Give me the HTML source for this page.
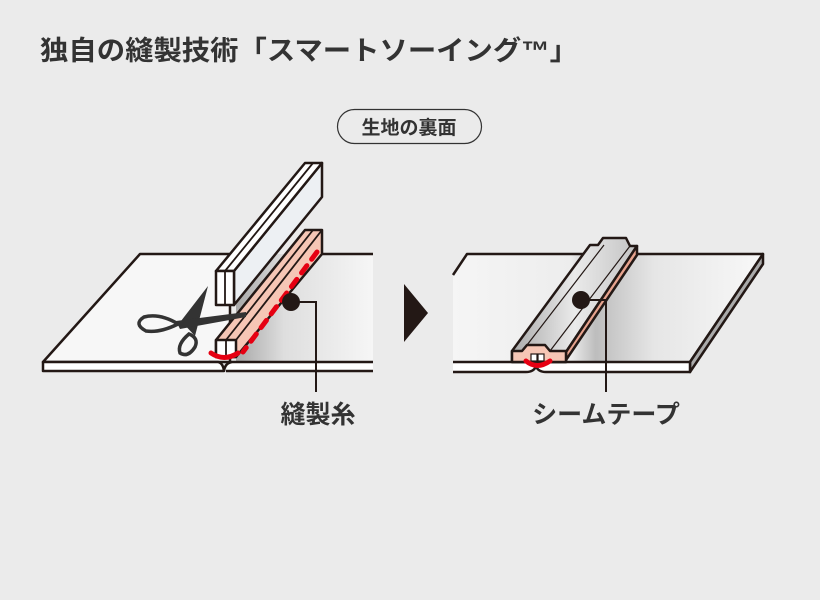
<!DOCTYPE html>
<html><head><meta charset="utf-8"><style>
html,body{margin:0;padding:0;background:#ebebeb;}
svg{display:block;}
text{font-family:"Liberation Sans","Noto Sans CJK JP",sans-serif;fill:#333;font-weight:bold;}
</style></head><body>
<svg width="820" height="600" viewBox="0 0 820 600" xmlns="http://www.w3.org/2000/svg">
<defs>
<linearGradient id="curl" gradientUnits="userSpaceOnUse" x1="236" y1="0" x2="373" y2="0">
<stop offset="0" stop-color="#a8a8a8"/><stop offset="0.35" stop-color="#dedede"/><stop offset="1" stop-color="#f6f6f6"/>
</linearGradient>
<linearGradient id="tape" gradientUnits="userSpaceOnUse" x1="512" y1="0" x2="637" y2="0">
<stop offset="0" stop-color="#aaa"/><stop offset="0.5" stop-color="#eaeaea"/><stop offset="1" stop-color="#c4c4c4"/>
</linearGradient>
<linearGradient id="rf" gradientUnits="userSpaceOnUse" x1="453" y1="0" x2="763" y2="0">
<stop offset="0" stop-color="#f5f5f5"/><stop offset="0.38" stop-color="#ededed"/><stop offset="0.46" stop-color="#bdbdbd"/><stop offset="0.65" stop-color="#e6e6e6"/><stop offset="1" stop-color="#f8f8f8"/>
</linearGradient>
</defs>
<rect width="820" height="600" fill="#ebebeb"/>
<text x="40" y="60" font-size="27" textLength="538" lengthAdjust="spacingAndGlyphs">独自の縫製技術「スマートソーイング™」</text>
<rect x="337.5" y="109.5" width="144" height="34" rx="17" fill="none" stroke="#333" stroke-width="1.2"/>
<text x="409" y="134" font-size="19" text-anchor="middle">生地の裏面</text>

<!-- LEFT -->
<g stroke="#231815" stroke-width="2.5" stroke-linejoin="round">
<path d="M140,254 L230,254 L230,362 L43,362 Z" fill="#f7f7f7"/>
<path d="M43,362 L218,362 Q223,363 224,371 L43,371 Z" fill="#fff"/>
<path d="M236,254 L373,254 L373,362 L236,362 Z" fill="url(#curl)" stroke="none"/>
<path d="M322,254 L373,254" fill="none"/>
<path d="M226,371 Q227,363 234,362 L373,362 L373,371 L226,371 Z" fill="#fff" stroke="none"/>
<path d="M230,362 L373,362 M224,371 Q225,363 232,362 M226,371 L373,371" fill="none"/>
<!-- back white strip -->
<path d="M234,271 L322,163 L322,197 L234,305 Z" fill="#edf0f3"/>
<path d="M216,271 L305,163 L322,163 L234,271 Z" fill="#fff"/>
<path d="M216,271 L234,271 L234,305 L216,305 Z" fill="#fff"/>
<path d="M225,271 L225,305 M225,271 L313,163" fill="none" stroke-width="1.8"/>
<!-- pink strip -->
<path d="M216,340 L305,230 L322,230 L322,254 L236,357 L216,357 Z" fill="#f6c6b5"/>
<path d="M216,340 L236,340 L236,357 L216,357 Z" fill="#fff"/>
<path d="M236,340 L322,230" fill="none" stroke-width="1.8"/>
<path d="M226,340 L226,357 M226,340 L313,230" fill="none" stroke-width="1.8"/>
</g>
<path d="M317,252 L243,352" stroke="#e60012" stroke-width="5" stroke-dasharray="9,8" stroke-linecap="round" fill="none"/>
<path d="M211,353 Q224,362 238,353" stroke="#e60012" stroke-width="5" fill="none" stroke-linecap="round"/>
<!-- scissors -->
<g fill="none" stroke="#333" stroke-width="3.5">
<path d="M178,324 Q160,313 144,317 Q133,324 146,331 Q160,333 178,324 Z"/>
<path d="M189,334 Q177,344 180,353 Q188,358 195,347 Q199,338 189,334 Z"/>
</g>
<path d="M181,321 L208,286 L195,336 Z" fill="#333"/>
<path d="M176,321 L246,312 L246,317 L180,329 Z" fill="#333"/>
<circle cx="291" cy="302" r="9" fill="#231815"/>
<path d="M291,302 H316 V392" stroke="#231815" stroke-width="2" fill="none"/>
<text x="318" y="423" font-size="25" text-anchor="middle">縫製糸</text>

<path d="M404,284 L428,313 L404,342 Z" fill="#231815"/>

<!-- RIGHT -->
<g stroke="#231815" stroke-width="2.5" stroke-linejoin="round">
<path d="M453,275 L467,254 L763,254 L690,362 L453,362 Z" fill="url(#rf)" stroke="none"/>
<path d="M453,275 L467,254 L763,254 L690,362" fill="none"/>
<path d="M763,254 L763,264 L690,372 L690,362 Z" fill="#aaa"/>
<path d="M453,362 L690,362 L690,372 L546,372 Q538,372 536,366 Q534,372 526,372 L453,372" fill="#fff"/>
<!-- tape -->
<path d="M512,351 L590,245 L598,245 L603,238 L626,238 L630,246 L637,246 L566,352 L566,362 L512,362 Z" fill="url(#tape)"/>
<path d="M637,246 L566,352 L566,360 L637,255 Z" fill="#e7a38e"/>
<path d="M512,351 L522,351 L527,345 L545,345 L550,351 L566,351 L566,362 L512,362 Z" fill="#f6c6b5"/>
<path d="M527,345 L604,245 M550,351 L630,246" fill="none" stroke-width="1.2"/>
</g>
<rect x="531" y="354" width="6" height="7" fill="#fff" stroke="#231815" stroke-width="1.2"/>
<rect x="538" y="354" width="6" height="7" fill="#fff" stroke="#231815" stroke-width="1.2"/>
<path d="M526,361 Q537,370 550,361" stroke="#e60012" stroke-width="5" fill="none" stroke-linecap="round"/>
<circle cx="581" cy="300" r="9" fill="#231815"/>
<path d="M581,300 H606 V392" stroke="#231815" stroke-width="2" fill="none"/>
<text x="606" y="423" font-size="25" text-anchor="middle">シームテープ</text>
</svg>
</body></html>
